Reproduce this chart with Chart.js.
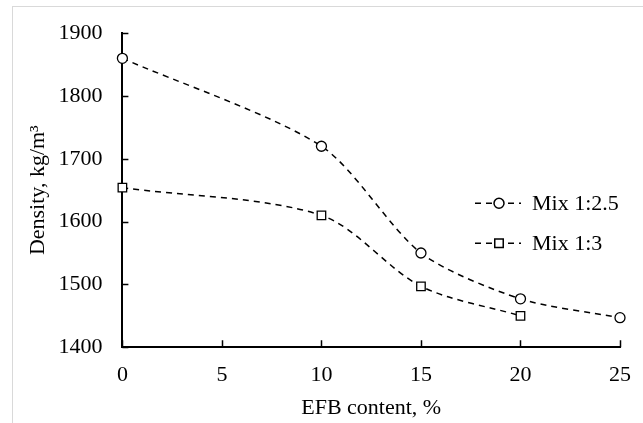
<!DOCTYPE html>
<html>
<head>
<meta charset="utf-8">
<script src="https://cdn.jsdelivr.net/npm/chart.js@4/dist/chart.umd.min.js"></script>
<style>
  html, body { margin: 0; padding: 0; background: #fff; }
  #wrap { position: relative; width: 643px; height: 423px; }
  #frame { position: absolute; left: 12px; top: 6px; right: 0; bottom: 0;
           border-top: 1px solid #d9d9d9; border-left: 1px solid #d9d9d9; }
  canvas { position: absolute; left: 0; top: 0; }
</style>
</head>
<body>
<div id="wrap">
  <div id="frame"></div>
  <canvas id="grafico" width="643" height="423"></canvas>
</div>
<script>
const efbMix25 = [0, 10, 15, 20, 25];
const densMix25 = [1860, 1720, 1550, 1477, 1447];
const efbMix3 = [0, 10, 15, 20];
const densMix3 = [1654, 1610, 1497, 1450];
const serieNomes = ['Mix 1:2.5', 'Mix 1:3'];

const fonte = 'Liberation Serif, Times New Roman, serif';

// ticks pequenos para dentro, como no Excel
const ticksDentro = {
  id: 'ticksDentro',
  afterDatasetsDraw(chart) {
    const { ctx, scales: { x, y } } = chart;
    ctx.save();
    ctx.strokeStyle = '#000';
    ctx.lineWidth = 1.5;
    ctx.beginPath();
    y.ticks.forEach(t => {
      const py = Math.round(y.getPixelForValue(t.value)) + 0.5;
      ctx.moveTo(x.left, py);
      ctx.lineTo(x.left + 6, py);
    });
    x.ticks.forEach(t => {
      const px = Math.round(x.getPixelForValue(t.value)) + 0.5;
      ctx.moveTo(px, y.bottom);
      ctx.lineTo(px, y.bottom - 7);
    });
    ctx.stroke();
    ctx.restore();
  }
};

// legenda no estilo "- -o- -"
const legendaLinha = {
  id: 'legendaLinha',
  afterDraw(chart) {
    const { ctx, chartArea } = chart;
    ctx.save();
    chart.data.datasets.forEach((ds, i) => {
      const cy = chartArea.top + 170 + i * 40;
      const x0 = chartArea.right - 145;
      ctx.strokeStyle = '#000';
      ctx.lineWidth = 1.5;
      ctx.setLineDash([6, 5]);
      ctx.beginPath();
      ctx.moveTo(x0, cy);
      ctx.lineTo(x0 + 46, cy);
      ctx.stroke();
      ctx.setLineDash([]);
      ctx.fillStyle = '#fff';
      Chart.helpers.drawPoint(ctx, {
        pointStyle: ds.pointStyle, radius: ds.pointRadius, borderWidth: 1.3
      }, x0 + 24, cy);
      ctx.fillStyle = '#000';
      ctx.font = '22px ' + fonte;
      ctx.textBaseline = 'middle';
      ctx.fillText(ds.label, x0 + 57, cy + 1);
    });
    ctx.restore();
  }
};

const ctxGrafico = document.getElementById('grafico').getContext('2d');
new Chart(ctxGrafico, {
  type: 'line',
  data: {
    datasets: [{
      label: serieNomes[0],
      data: efbMix25.map((v, i) => ({ x: v, y: densMix25[i] })),
      borderColor: '#000',
      borderWidth: 1.5,
      borderDash: [6, 5],
      backgroundColor: '#fff',
      pointStyle: 'circle',
      pointRadius: 5,
      pointBorderWidth: 1.3,
      tension: 0.27,
      clip: false
    }, {
      label: serieNomes[1],
      data: efbMix3.map((v, i) => ({ x: v, y: densMix3[i] })),
      borderColor: '#000',
      borderWidth: 1.5,
      borderDash: [6, 5],
      backgroundColor: '#fff',
      pointStyle: 'rect',
      pointRadius: 6,
      pointBorderWidth: 1.3,
      tension: 0.3,
      clip: false
    }]
  },
  options: {
    responsive: false,
    animation: false,
    layout: { padding: { left: 25, right: 2, top: 20, bottom: 2 } },
    plugins: { legend: { display: false }, tooltip: { enabled: false } },
    scales: {
      x: {
        type: 'linear', min: 0, max: 25,
        afterFit: s => { s.paddingRight = 23; },
        grid: { drawOnChartArea: false, drawTicks: false },
        border: { color: '#000', width: 2 },
        ticks: { stepSize: 5, color: '#000', padding: 15, font: { family: fonte, size: 22 } },
        title: { display: true, text: 'EFB content, %', color: '#000', padding: { top: -9, bottom: 0 },
                 font: { family: fonte, size: 22 } }
      },
      y: {
        min: 1400, max: 1900,
        grid: { drawOnChartArea: false, drawTicks: false },
        border: { color: '#000', width: 2 },
        ticks: { stepSize: 100, color: '#000', padding: 20, font: { family: fonte, size: 22 },
                 callback: v => String(v) },
        title: { display: true, text: 'Density, kg/m³', color: '#000', padding: { top: 0, bottom: -13 },
                 font: { family: fonte, size: 22 } }
      }
    }
  },
  plugins: [ticksDentro, legendaLinha]
});
</script>
</body>
</html>
